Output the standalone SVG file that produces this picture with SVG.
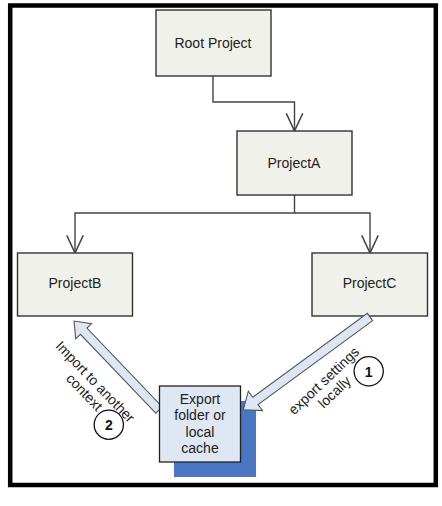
<svg xmlns="http://www.w3.org/2000/svg" width="442" height="506" viewBox="0 0 442 506">
<style>
.node{fill:#f0f1ea;stroke:#333;stroke-width:1.4}
.lbl{font-family:"Liberation Sans",Arial,sans-serif;font-size:14px;fill:#222;text-anchor:middle}
.conn{fill:none;stroke:#444;stroke-width:1.4}
.block{fill:#dde6f2;stroke:#555;stroke-width:1.1}
.num{fill:#fff;stroke:#111;stroke-width:1.3}
.numt{font-family:"Liberation Sans",Arial,sans-serif;font-size:14px;font-weight:bold;fill:#111;text-anchor:middle}
</style>
<defs>
<marker id="v" markerUnits="userSpaceOnUse" markerWidth="20" markerHeight="20" viewBox="-16 -8 17 16" refX="0" refY="0" orient="auto">
<path d="M-15,-7 L0,0 L-15,7" fill="none" stroke="#444" stroke-width="1.3"/>
</marker>
</defs>
<rect x="0" y="0" width="442" height="506" fill="#fff"/>
<rect x="10.2" y="5.5" width="425.6" height="479.5" fill="#fff" stroke="#000" stroke-width="4.5"/>
<g id="connectors">
<path class="conn" d="M213,76 V102 H294.5 V131" marker-end="url(#v)"/>
<path class="conn" d="M294.5,195 V213 H75 V253" marker-end="url(#v)"/>
<path class="conn" d="M294.5,213 H370 V253" marker-end="url(#v)"/>
</g>
<g id="root"><rect class="node" x="156" y="10" width="115" height="66"/><text class="lbl" x="213" y="48">Root Project</text></g>
<g id="projectA"><rect class="node" x="237" y="131" width="115" height="64"/><text class="lbl" x="294" y="168">ProjectA</text></g>
<g id="projectB"><rect class="node" x="17.5" y="253" width="115" height="63"/><text class="lbl" x="75" y="288">ProjectB</text></g>
<g id="projectC"><rect class="node" x="312" y="253" width="115.5" height="63"/><text class="lbl" x="369.5" y="288">ProjectC</text></g>
<rect id="shadow" x="174" y="401" width="82" height="76" fill="#4a76c2"/>
<g id="block-arrows">
<polygon class="block" transform="translate(370,317) rotate(143.8)" points="0,-4.5 142,-4.5 142,-12 157,0 142,12 142,4.5 0,4.5"/>
<polygon class="block" transform="translate(159,410) rotate(-133.7)" points="0,-4.5 109,-4.5 109,-11 123,0 109,11 109,4.5 0,4.5"/>
</g>
<g id="export">
<rect x="159.5" y="386" width="81" height="76" fill="#dfe7f3" stroke="#222" stroke-width="1.3"/>
<text class="lbl" x="200" y="403.5">Export</text>
<text class="lbl" x="200" y="420">folder or</text>
<text class="lbl" x="200" y="436.5">local</text>
<text class="lbl" x="200" y="453">cache</text>
</g>
<g id="label-import" transform="translate(95,382) rotate(46)">
<text class="lbl" x="0" y="4.5">Import to another</text>
<text class="lbl" x="0" y="19.5">context</text>
</g>
<g id="label-export" transform="translate(324,381) rotate(-43.5)">
<text class="lbl" x="0" y="4.5">export settings</text>
<text class="lbl" x="0" y="20">locally</text>
</g>
<g id="step1"><circle class="num" cx="368.7" cy="371.3" r="14.6"/><text class="numt" x="368.7" y="376.5">1</text></g>
<g id="step2"><circle class="num" cx="108.8" cy="424.7" r="14.6"/><text class="numt" x="108.8" y="430">2</text></g>
</svg>
